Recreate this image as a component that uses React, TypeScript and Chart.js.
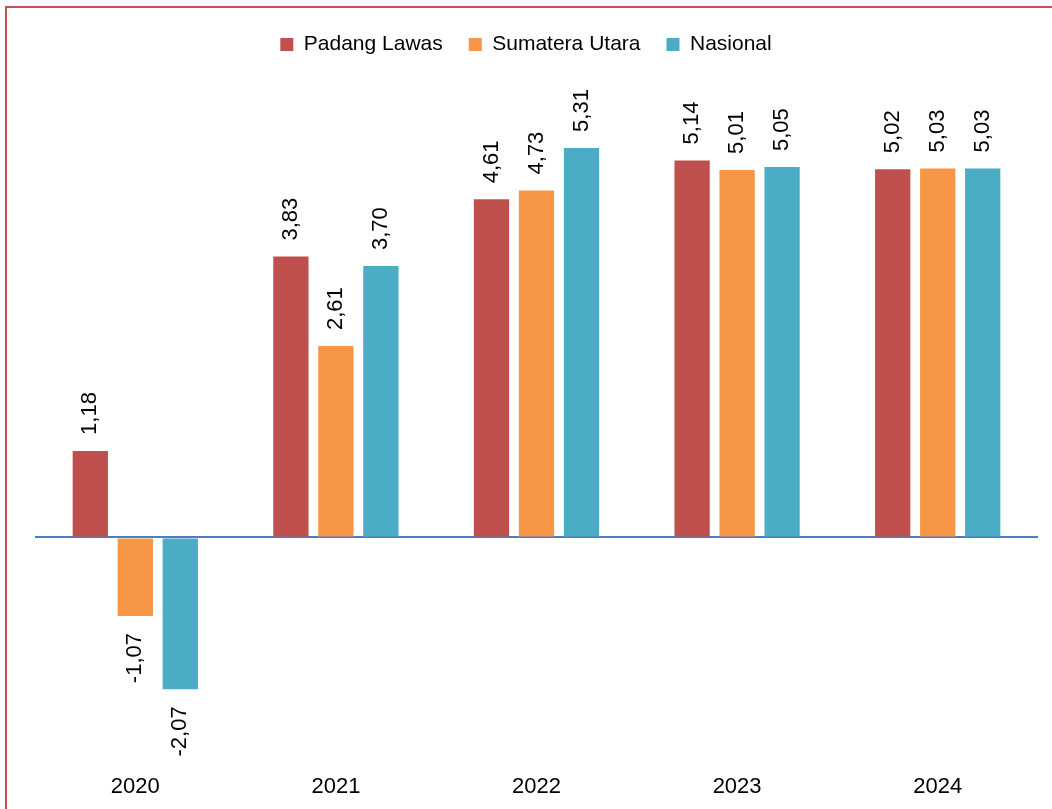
import React, { useEffect, useRef } from "react";
import { Chart, registerables } from "chart.js";

Chart.register(...registerables);

const categories = ["2020", "2021", "2022", "2023", "2024"];
const padangLawas = [1.18, 3.83, 4.61, 5.14, 5.02];
const sumateraUtara = [-1.07, 2.61, 4.73, 5.01, 5.03];
const nasional = [-2.07, 3.7, 5.31, 5.05, 5.03];
const seriesNames = ["Padang Lawas", "Sumatera Utara", "Nasional"];
const seriesColors = ["#C0504D", "#F79646", "#4BACC6"];

const FONT = "'Liberation Sans', Arial, sans-serif";

const borderPlugin = {
  id: "outerBorder",
  beforeDraw(chart: any) {
    const ctx = chart.ctx;
    ctx.save();
    ctx.fillStyle = "#C55250";
    ctx.fillRect(5, 6, chart.width - 5, 2);
    ctx.fillRect(5, 6, 2, chart.height - 6);
    ctx.restore();
  },
};

const valueLabelPlugin = {
  id: "valueLabels",
  afterDatasetsDraw(chart: any) {
    const ctx = chart.ctx;
    ctx.save();
    ctx.font = `22px ${FONT}`;
    ctx.fillStyle = "#000000";
    ctx.textBaseline = "middle";
    chart.data.datasets.forEach((ds: any, di: number) => {
      const meta = chart.getDatasetMeta(di);
      meta.data.forEach((bar: any, i: number) => {
        const v = ds.data[i] as number;
        const text = v.toFixed(2).replace(".", ",");
        ctx.save();
        if (v >= 0) {
          ctx.translate(bar.x, bar.y - 16);
          ctx.rotate(-Math.PI / 2);
          ctx.textAlign = "left";
        } else {
          ctx.translate(bar.x, bar.y + 17);
          ctx.rotate(-Math.PI / 2);
          ctx.textAlign = "right";
        }
        ctx.fillText(text, 0, 0);
        ctx.restore();
      });
    });
    ctx.restore();
  },
};

export default function App() {
  const canvasRef = useRef<HTMLCanvasElement | null>(null);

  useEffect(() => {
    if (!canvasRef.current) return;
    const seriesData = [padangLawas, sumateraUtara, nasional];
    const chart = new Chart(canvasRef.current, {
      type: "bar",
      data: {
        labels: categories,
        datasets: seriesNames.map((name, i) => ({
          label: name,
          data: seriesData[i],
          backgroundColor: seriesColors[i],
          borderWidth: 0,
          categoryPercentage: 0.673,
          barPercentage: 0.784,
        })),
      },
      options: {
        responsive: false,
        animation: false,
        layout: { padding: { top: 8, bottom: -7, left: 0, right: 0 } },
        plugins: {
          legend: {
            display: true,
            position: "top",
            labels: {
              boxWidth: 13,
              boxHeight: 13,
              padding: 26,
              color: "#000000",
              font: { family: FONT, size: 21 },
            },
          },
          tooltip: { enabled: false },
        },
        scales: {
          x: {
            grid: { display: false, drawTicks: false },
            border: { display: false },
            ticks: {
              color: "#000000",
              font: { family: FONT, size: 22 },
              padding: 16,
            },
          },
          y: {
            min: -3,
            max: 6.44,
            position: "left",
            ticks: { display: false, stepSize: 1 },
            grid: {
              drawTicks: false,
              color: (c: any) =>
                c.tick && c.tick.value === 0 ? "#4A7EC4" : "rgba(0,0,0,0)",
              lineWidth: (c: any) => (c.tick && c.tick.value === 0 ? 2 : 0),
            },
            border: { display: false },
            afterFit: (s: any) => {
              s.width = 35;
            },
          },
          y2: {
            min: -3,
            max: 6.44,
            position: "right",
            display: true,
            ticks: { display: false },
            grid: { display: false, drawTicks: false },
            border: { display: false },
            afterFit: (s: any) => {
              s.width = 14;
            },
          },
        },
      },
      plugins: [borderPlugin, valueLabelPlugin],
    });
    return () => chart.destroy();
  }, []);

  return (
    <div
      style={{
        position: "absolute",
        left: 0,
        top: 0,
        width: 1052,
        height: 809,
        background: "#ffffff",
      }}
    >
      <canvas
        ref={canvasRef}
        width={1052}
        height={809}
        style={{ display: "block", width: 1052, height: 809 }}
      />
    </div>
  );
}
